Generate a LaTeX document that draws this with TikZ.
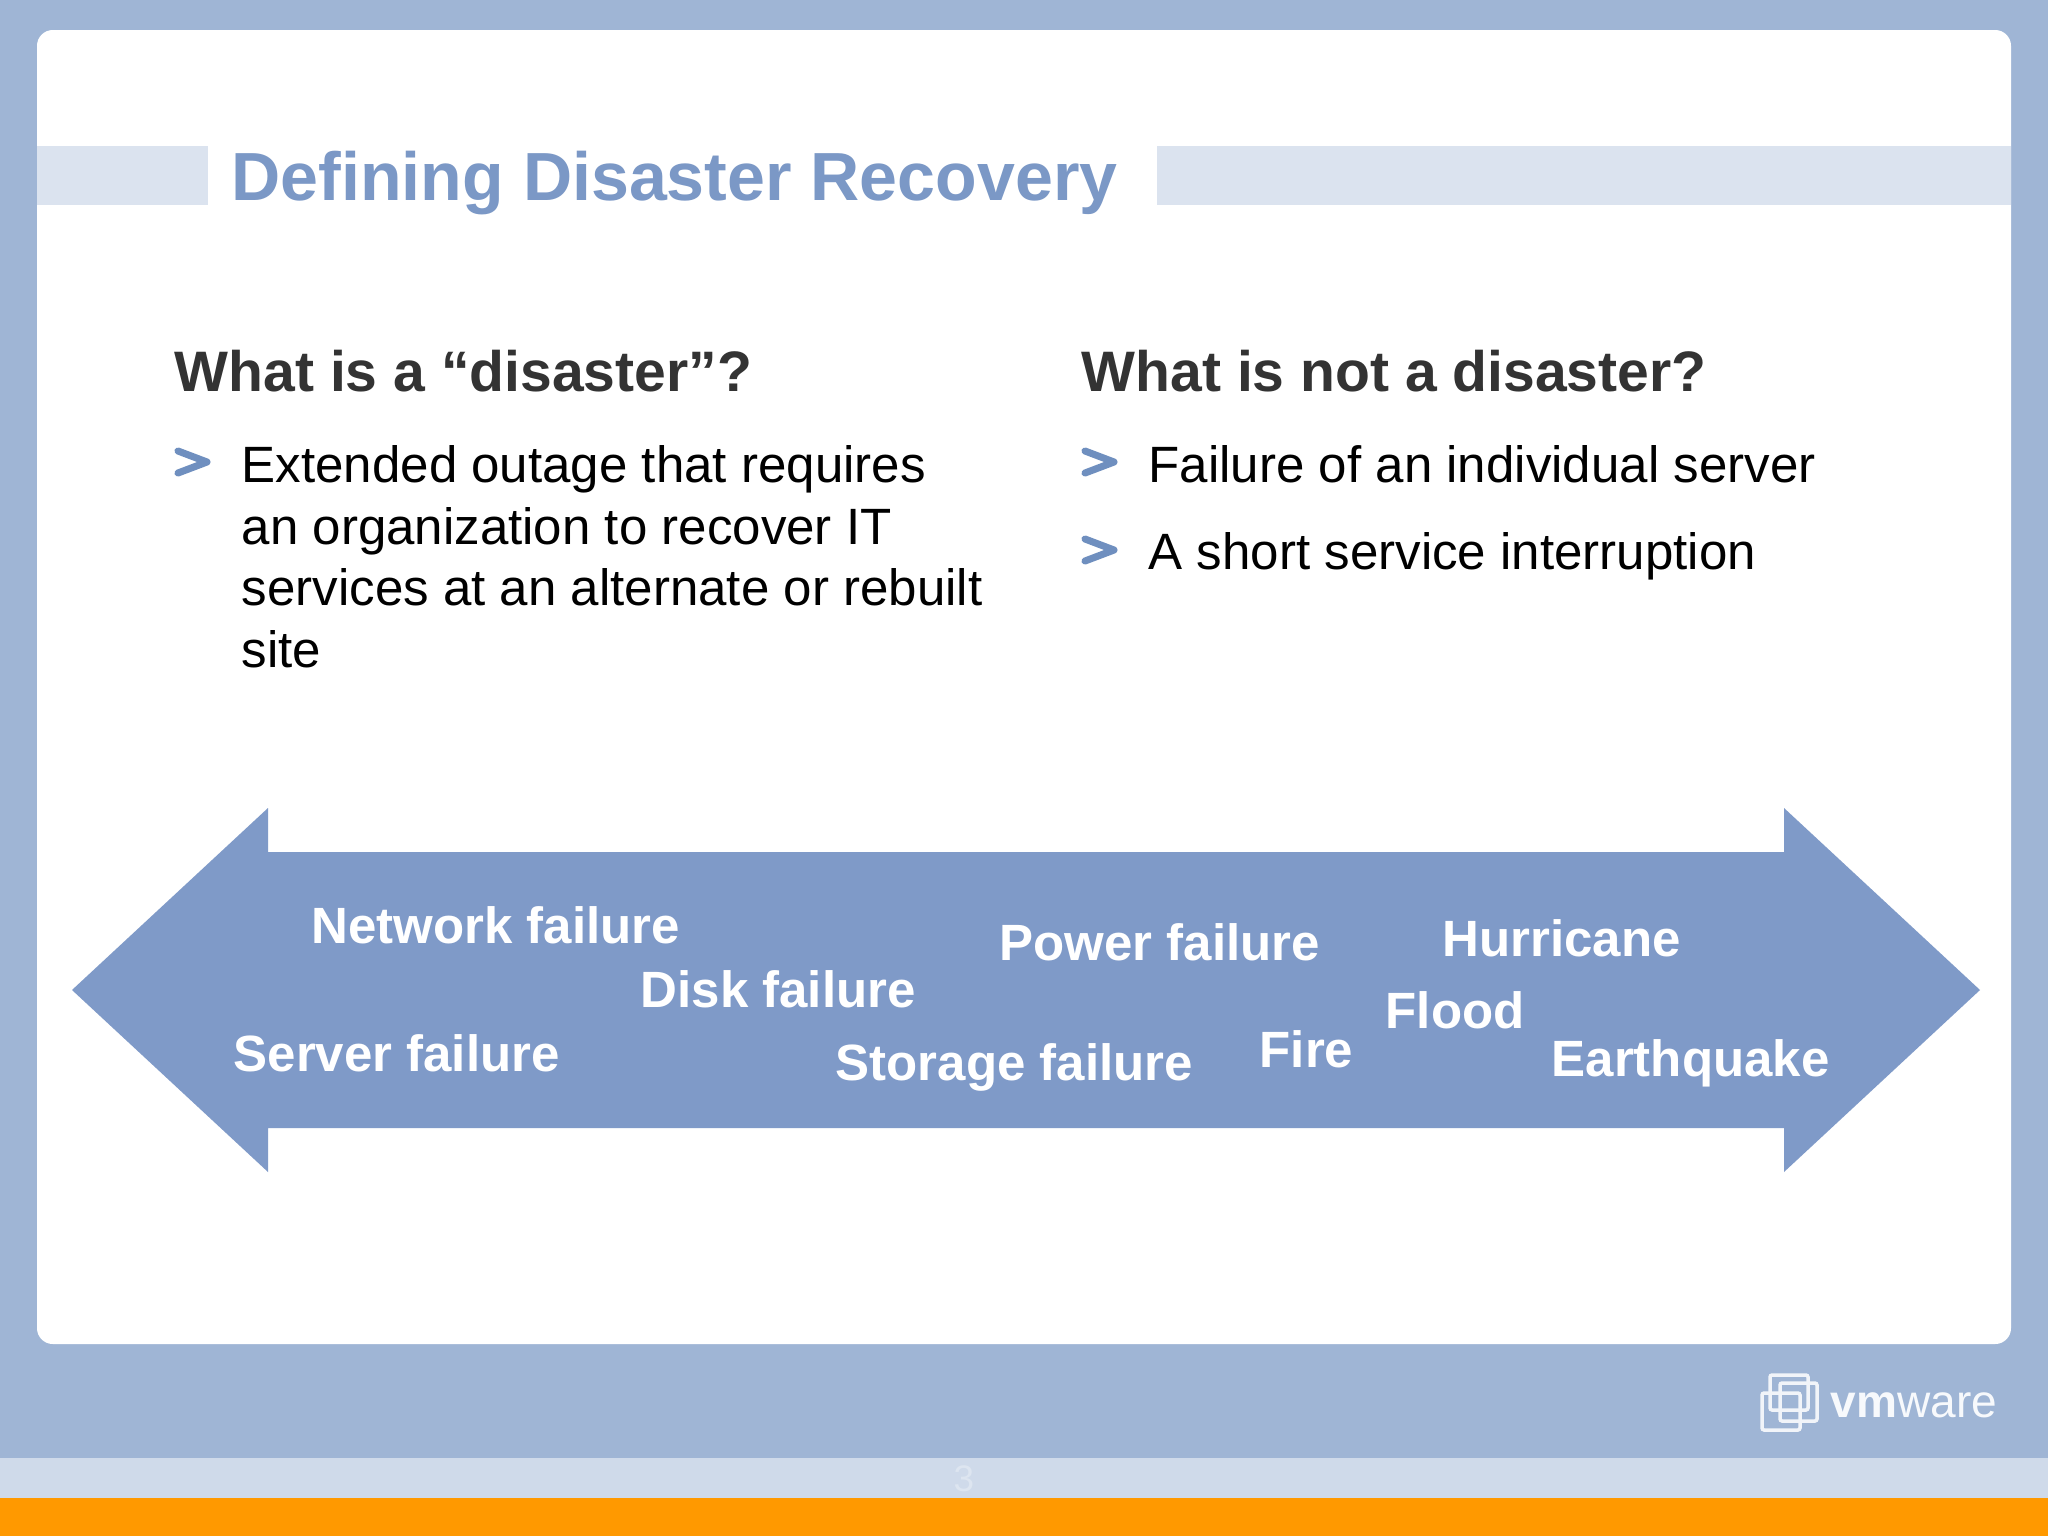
\documentclass[tikz,border=0pt]{standalone}
\usepackage{fontspec}
\setmainfont{Liberation Sans}
\usetikzlibrary{calc}
\definecolor{slidebg}{HTML}{9FB5D5}
\definecolor{bandblue}{HTML}{DBE3EF}
\definecolor{arrowblue}{HTML}{7F9AC8}
\definecolor{titleblue}{HTML}{7B98C6}
\definecolor{chevblue}{HTML}{6F8FBF}
\definecolor{headgray}{HTML}{333333}
\definecolor{footband}{HTML}{CFDAEA}
\definecolor{footorange}{HTML}{FF9900}
\tikzset{
  titletext/.style={anchor=base west,inner sep=0,text=titleblue,font=\fontsize{19.37}{23}\selectfont\bfseries},
  headtext/.style={anchor=base west,inner sep=0,text=headgray,font=\fontsize{16.23}{20}\selectfont\bfseries},
  bodytext/.style={anchor=base west,inner sep=0,text=black,font=\fontsize{14.52}{17.5}\selectfont},
  chevline/.style={draw=chevblue,line width=2pt,line cap=round,line join=round},
  failtext/.style={anchor=base west,inner sep=0,text=white,font=\fontsize{14.5}{17}\selectfont\bfseries},
  logobox/.style={draw=white!85!slidebg,line width=1pt,rounded corners=0.6pt},
}
\begin{document}
\begin{tikzpicture}[x=0.01cm,y=-0.01cm]
\useasboundingbox (0,0) rectangle (2048,1536);
\fill[slidebg] (0,0) rectangle (2048,1536);
\fill[footband] (0,1458) rectangle (2048,1498);
\fill[footorange] (0,1498) rectangle (2048,1536);
\fill[white,rounded corners=4.5pt] (37,30) rectangle (2011,1344);
\fill[bandblue] (37,146) rectangle (208,205);
\fill[bandblue] (1157,146) rectangle (2011,205);

\node[titletext] (title) at (231,200) {Defining Disaster Recovery};

\node[headtext] (headyes) at (174,391) {What is a “disaster”?};
\node[headtext] (headno) at (1081,391) {What is not a disaster?};

\draw[chevline] (178,451)--(207,462)--(178,473);
\node[bodytext] (lineone) at (241,482) {Extended outage that requires};
\node[bodytext] (linetwo) at (241,544) {an organization to recover IT};
\node[bodytext] (linethree) at (241,605) {services at an alternate or rebuilt};
\node[bodytext] (linefour) at (241,667) {site};

\draw[chevline] (1085,451)--(1114,462)--(1085,473);
\node[bodytext] (noone) at (1148,482) {Failure of an individual server};
\draw[chevline] (1085,539)--(1114,550)--(1085,561);
\node[bodytext] (notwo) at (1148,569) {A short service interruption};

% the big arrow
\fill[arrowblue] (72,990)--(268,808)--(268,852)--(1784,852)--(1784,808)--(1980,990)--(1784,1172)--(1784,1128)--(268,1128)--(268,1172)--cycle;

\node[failtext] (network) at (311,943) {Network failure};
\node[failtext] (disk) at (640,1007) {Disk failure};
\node[failtext] (server) at (233,1071) {Server failure};
\node[failtext] (power) at (999,960) {Power failure};
\node[failtext] (storage) at (835,1080) {Storage failure};
\node[failtext] (fire) at (1259,1067) {Fire};
\node[failtext] (flood) at (1385,1028) {Flood};
\node[failtext] (hurricane) at (1442,956) {Hurricane};
\node[failtext] (earthquake) at (1551,1076) {Earthquake};

% logo and page number
\draw[logobox] (1770,1375) rectangle (1808,1410);
\draw[logobox] (1780,1383) rectangle (1817,1421);
\draw[logobox] (1762,1393) rectangle (1800,1430);
\node[anchor=base west,inner sep=0,text=white!92!slidebg,font=\fontsize{13.1}{15}\selectfont] (logo) at (1830,1417) {\textbf{vm}ware};
\node[anchor=base west,inner sep=0,text=white!30!footband,font=\fontsize{10.5}{12}\selectfont] (pagenum) at (953,1491) {3};
\end{tikzpicture}
\end{document}
